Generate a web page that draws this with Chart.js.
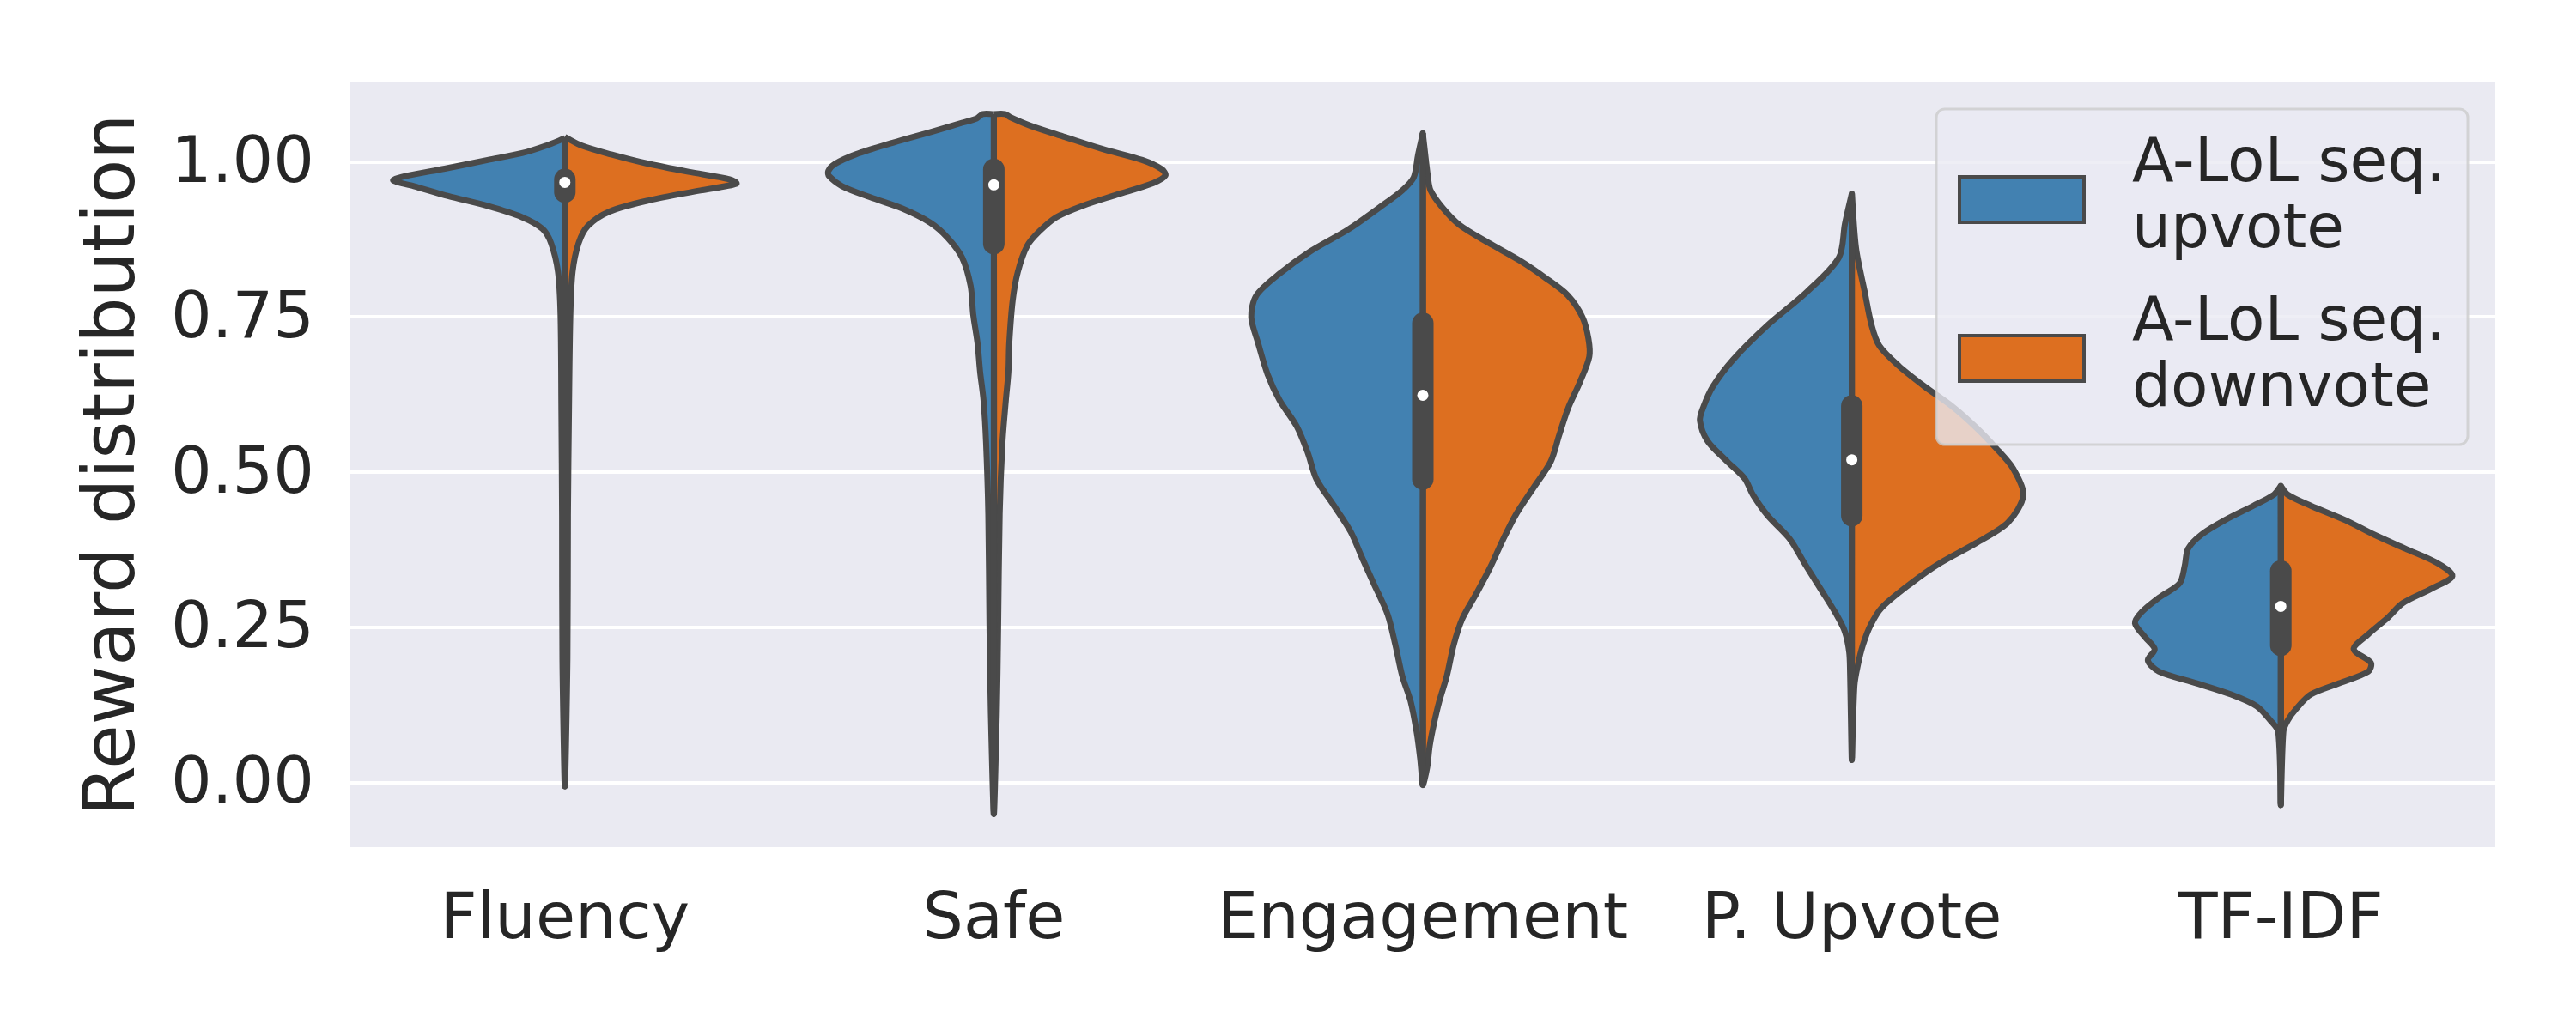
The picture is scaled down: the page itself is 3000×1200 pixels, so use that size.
<!DOCTYPE html>
<html><head><meta charset="utf-8">
<script src="https://cdn.jsdelivr.net/npm/chart.js@4.4.1/dist/chart.umd.min.js"></script>
<style>html,body{margin:0;padding:0;background:#fff}canvas{display:block}</style>
</head><body>
<canvas id="c" width="3000" height="1200" style="width:3000px;height:1200px"></canvas>
<script>
// ---------------- data ----------------
const categories = ['Fluency', 'Safe', 'Engagement', 'P. Upvote', 'TF-IDF'];
const seriesNames = ['A-LoL seq.\nupvote', 'A-LoL seq.\ndownvote'];
const seriesColors = ['#4281b1', '#dd6f20'];
const yTicks = [0, 0.25, 0.5, 0.75, 1.0];

// density profiles: [reward value, relative half-width (1 = widest)]
const fluencyUp = [[1.038,0],[1.026,0.11],[1.014,0.25],[1.003,0.45],[0.989,0.70],[0.977,0.93],[0.970,1.0],[0.961,0.88],[0.945,0.68],[0.929,0.45],[0.911,0.25],[0.892,0.13],[0.869,0.08],[0.823,0.04],[0.754,0.025],[0.60,0.02],[0.43,0.016],[0.20,0.014],[0.0,0]];
const fluencyDown = [[1.040,0],[1.026,0.10],[1.012,0.27],[0.998,0.47],[0.984,0.72],[0.972,0.96],[0.965,1.0],[0.954,0.79],[0.938,0.49],[0.920,0.26],[0.897,0.135],[0.869,0.08],[0.823,0.045],[0.754,0.032],[0.60,0.024],[0.43,0.018],[0.20,0.015],[0.0,0]];
const safeUp = [[1.077,0],[1.077,0.065],[1.070,0.10],[1.063,0.185],[1.049,0.355],[1.031,0.585],[1.012,0.805],[0.996,0.93],[0.985,0.965],[0.977,0.96],[0.961,0.885],[0.943,0.72],[0.925,0.535],[0.902,0.37],[0.878,0.27],[0.846,0.185],[0.80,0.135],[0.754,0.12],[0.708,0.095],[0.662,0.08],[0.616,0.06],[0.547,0.045],[0.432,0.032],[0.248,0.025],[0.11,0.017],[-0.045,0]];
const safeDown = [[1.077,0],[1.077,0.065],[1.072,0.095],[1.058,0.215],[1.040,0.415],[1.021,0.63],[1.003,0.865],[0.988,0.98],[0.978,1.0],[0.966,0.93],[0.947,0.715],[0.929,0.515],[0.911,0.365],[0.888,0.265],[0.865,0.195],[0.823,0.14],[0.777,0.11],[0.708,0.09],[0.662,0.085],[0.616,0.07],[0.547,0.05],[0.432,0.034],[0.248,0.025],[0.11,0.017],[-0.045,0]];
const engagementUp = [[1.046,0],[1.011,0.028],[0.975,0.053],[0.954,0.12],[0.926,0.255],[0.891,0.435],[0.856,0.655],[0.820,0.835],[0.785,0.97],[0.750,1.0],[0.708,0.96],[0.658,0.905],[0.616,0.835],[0.574,0.735],[0.531,0.67],[0.489,0.62],[0.447,0.52],[0.404,0.42],[0.363,0.355],[0.320,0.285],[0.271,0.205],[0.222,0.16],[0.172,0.12],[0.130,0.07],[0.080,0.035],[0.038,0.015],[-0.002,0]];
const engagementDown = [[1.046,0],[0.975,0.03],[0.954,0.045],[0.926,0.115],[0.898,0.215],[0.870,0.38],[0.841,0.565],[0.813,0.715],[0.785,0.845],[0.750,0.93],[0.715,0.965],[0.686,0.97],[0.645,0.915],[0.602,0.845],[0.560,0.795],[0.517,0.745],[0.475,0.645],[0.433,0.545],[0.390,0.465],[0.348,0.395],[0.306,0.315],[0.264,0.23],[0.222,0.18],[0.172,0.14],[0.130,0.095],[0.095,0.065],[0.059,0.04],[0.024,0.025],[-0.002,0]];
const pUpvoteUp = [[0.949,0],[0.900,0.04],[0.846,0.075],[0.791,0.26],[0.737,0.49],[0.682,0.69],[0.638,0.81],[0.605,0.865],[0.583,0.885],[0.550,0.84],[0.517,0.725],[0.490,0.625],[0.463,0.575],[0.430,0.49],[0.392,0.36],[0.353,0.275],[0.309,0.175],[0.271,0.09],[0.243,0.04],[0.210,0.015],[0.178,0.01],[0.041,0]];
const pUpvoteDown = [[0.949,0],[0.860,0.025],[0.791,0.075],[0.737,0.115],[0.704,0.16],[0.671,0.275],[0.638,0.425],[0.605,0.59],[0.572,0.725],[0.539,0.84],[0.506,0.94],[0.463,1.0],[0.419,0.91],[0.386,0.725],[0.353,0.51],[0.320,0.34],[0.282,0.175],[0.254,0.11],[0.222,0.065],[0.189,0.035],[0.156,0.015],[0.041,0]];
const tfidfUp = [[0.478,0],[0.464,0.04],[0.446,0.16],[0.423,0.325],[0.400,0.46],[0.377,0.54],[0.349,0.56],[0.321,0.59],[0.298,0.71],[0.275,0.81],[0.257,0.85],[0.234,0.79],[0.215,0.735],[0.197,0.775],[0.179,0.71],[0.160,0.49],[0.142,0.29],[0.123,0.14],[0.100,0.06],[0.082,0.015],[-0.033,0]];
const tfidfDown = [[0.478,0],[0.464,0.04],[0.446,0.175],[0.423,0.375],[0.400,0.54],[0.377,0.725],[0.354,0.91],[0.333,1.0],[0.312,0.875],[0.289,0.71],[0.266,0.625],[0.239,0.51],[0.215,0.425],[0.193,0.525],[0.179,0.51],[0.160,0.34],[0.142,0.175],[0.119,0.09],[0.100,0.04],[0.082,0.015],[-0.033,0]];

const upProfiles = [fluencyUp, safeUp, engagementUp, pUpvoteUp, tfidfUp];
const downProfiles = [fluencyDown, safeDown, engagementDown, pUpvoteDown, tfidfDown];

// inner box statistics (both halves combined)
const boxQ1 = [0.951, 0.868, 0.489, 0.430, 0.221];
const boxMedian = [0.967, 0.963, 0.624, 0.520, 0.284];
const boxQ3 = [0.972, 0.988, 0.740, 0.607, 0.341];
const whiskerLow = [0.0, -0.045, -0.002, 0.041, -0.033];
const whiskerHigh = [1.035, 1.072, 1.046, 0.949, 0.478];

// ---------------- styling ----------------
const HALF = 0.4;            // max half width in category units
const EDGE = '#4a4a4a';
const TEXT = '#262626';
const FONT = 'DejaVu Sans';

function halfViolin(i, profile, side, color) {
  const pts = profile.map(([v, w]) => ({x: i + side * w * HALF, y: v}));
  pts.push({x: i, y: profile[0][0]});
  return {
    type: 'line', data: pts, fill: 'shape', backgroundColor: color,
    borderColor: EDGE, borderWidth: 7, borderJoinStyle: 'round',
    pointRadius: 0, tension: 0.3, order: 3
  };
}

const datasets = [];
categories.forEach((c, i) => {
  datasets.push(halfViolin(i, upProfiles[i], -1, seriesColors[0]));
  datasets.push(halfViolin(i, downProfiles[i], 1, seriesColors[1]));
});
categories.forEach((c, i) => {
  datasets.push({type: 'line', data: [{x: i, y: whiskerLow[i]}, {x: i, y: whiskerHigh[i]}],
    borderColor: EDGE, borderWidth: 7, borderCapStyle: 'round', pointRadius: 0, fill: false, order: 2});
  datasets.push({type: 'line', data: [{x: i, y: boxQ1[i]}, {x: i, y: boxQ3[i]}],
    borderColor: EDGE, borderWidth: 25, borderCapStyle: 'round', pointRadius: 0, fill: false, order: 1});
});
datasets.push({type: 'scatter', data: categories.map((c, i) => ({x: i, y: boxMedian[i]})),
  pointRadius: 6.5, pointBackgroundColor: '#ffffff', pointBorderWidth: 0, showLine: false, order: 0});

const bgPlugin = {
  id: 'bg',
  beforeDraw(chart) {
    const {ctx, chartArea: a} = chart;
    ctx.save(); ctx.fillStyle = '#eaeaf2';
    ctx.fillRect(a.left, a.top, a.right - a.left, a.bottom - a.top);
    ctx.restore();
  }
};

const legendPlugin = {
  id: 'customLegend',
  afterDraw(chart) {
    const {ctx, chartArea: a} = chart;
    const L = a.right - 651, T = a.top + 31, W = 619, H = 391, r = 10;
    ctx.save();
    ctx.globalAlpha = 0.8;
    ctx.beginPath();
    ctx.roundRect(L, T, W, H, r);
    ctx.fillStyle = '#eaeaf2'; ctx.fill();
    ctx.lineWidth = 3; ctx.strokeStyle = '#cccccc'; ctx.stroke();
    ctx.globalAlpha = 1;
    const swY = [79, 264];
    const baseY = [[84, 161], [269, 346]];
    seriesNames.forEach((name, k) => {
      ctx.fillStyle = seriesColors[k];
      ctx.fillRect(L + 27, T + swY[k], 145, 53);
      ctx.lineWidth = 4; ctx.strokeStyle = EDGE;
      ctx.strokeRect(L + 27, T + swY[k], 145, 53);
      ctx.fillStyle = TEXT;
      ctx.font = `71px "${FONT}"`;
      ctx.textBaseline = 'alphabetic'; ctx.textAlign = 'left';
      name.split('\n').forEach((line, j) => ctx.fillText(line, L + 228, T + baseY[k][j]));
    });
    ctx.restore();
  }
};

new Chart(document.getElementById('c'), {
  type: 'line',
  data: {datasets},
  plugins: [bgPlugin, legendPlugin],
  options: {
    responsive: false, devicePixelRatio: 1, animation: false,
    layout: {padding: {top: 96, right: 94, left: 0, bottom: 0}},
    plugins: {legend: {display: false}, tooltip: {enabled: false}},
    scales: {
      x: {
        type: 'linear', min: -0.5, max: 4.5,
        afterBuildTicks: s => { s.ticks = categories.map((c, i) => ({value: i})); },
        afterFit: s => { s.height = 213; },
        grid: {display: false, drawTicks: false},
        border: {display: false},
        ticks: {callback: v => categories[v], font: {family: FONT, size: 75}, color: TEXT, padding: 42, maxRotation: 0, autoSkip: false}
      },
      y: {
        type: 'linear', min: -0.104, max: 1.128,
        afterBuildTicks: s => { s.ticks = yTicks.map(v => ({value: v})); },
        afterFit: s => { s.width = 408; },
        grid: {color: '#ffffff', lineWidth: 4, drawTicks: false},
        border: {display: false},
        ticks: {callback: v => v.toFixed(2), font: {family: FONT, size: 75}, color: TEXT, padding: 42, labelOffset: 4},
        title: {display: true, text: 'Reward distribution', color: TEXT, font: {family: FONT, size: 84, lineHeight: 1.2}, padding: {top: 84, bottom: 0}}
      }
    }
  }
});
</script>
</body></html>
